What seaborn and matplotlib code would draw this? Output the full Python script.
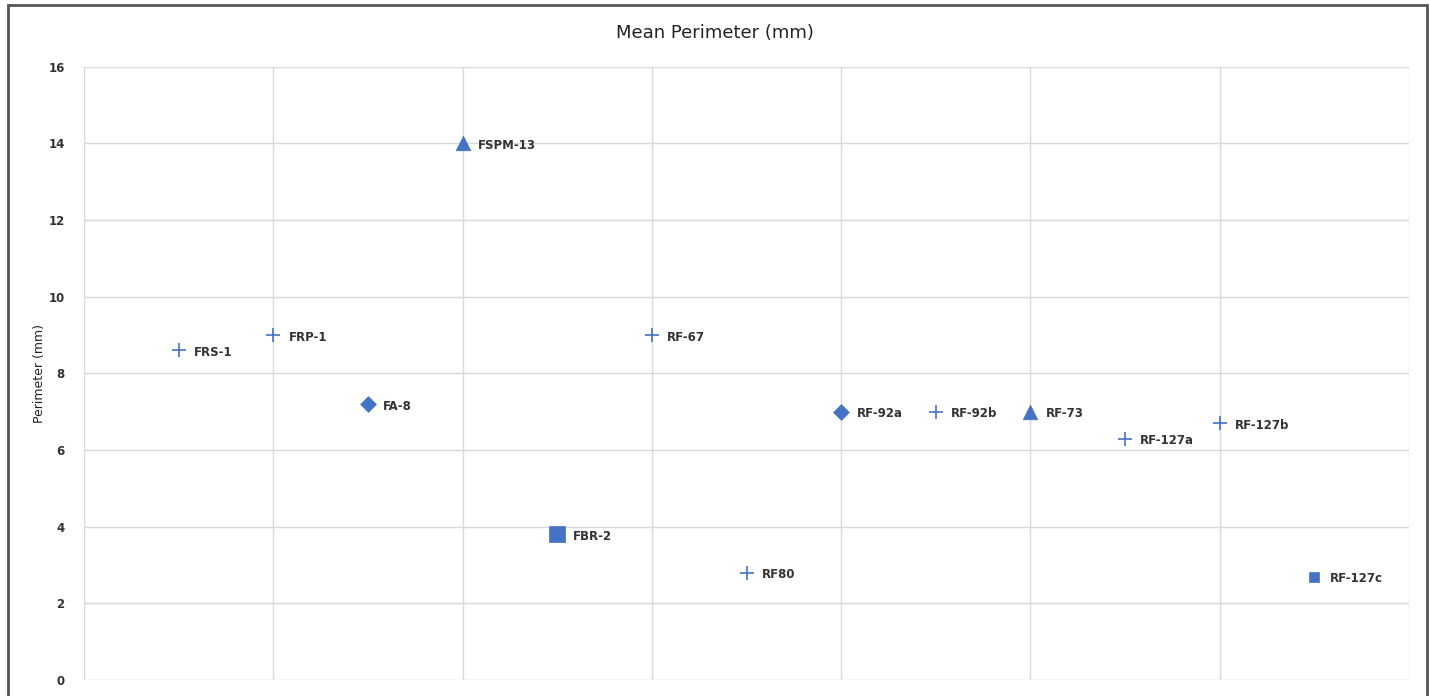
import pandas as pd
import seaborn as sns
import matplotlib.pyplot as plt
from matplotlib.patches import Rectangle

samples = ['FRS-1', 'FRP-1', 'FA-8', 'FSPM-13', 'FBR-2', 'RF-67', 'RF80',
           'RF-92a', 'RF-92b', 'RF-73', 'RF-127a', 'RF-127b', 'RF-127c']
position = [1, 2, 3, 4, 5, 6, 7, 8, 9, 10, 11, 12, 13]
perimeter = [8.6, 9.0, 7.2, 14.0, 3.8, 9.0, 2.8, 7.0, 7.0, 7.0, 6.3, 6.7, 2.7]
shape = ['+', '+', 'D', '^', 's', '+', '+', 'D', '+', '^', '+', '+', 's']
msize = [110, 110, 65, 110, 120, 110, 110, 65, 110, 110, 110, 110, 55]

df = pd.DataFrame({'sample': samples, 'x': position, 'perimeter': perimeter,
                   'shape': shape, 'msize': msize})

blue = '#4472C4'
sns.set_style('white')
fig = plt.figure(figsize=(14.29, 6.96), dpi=100)
ax = fig.add_axes([0.0588, 0.023, 0.9272, 0.881])

for _, row in df.iterrows():
    if row['shape'] == '+':
        sns.scatterplot(x=[row['x']], y=[row['perimeter']], marker='+', s=row['msize'],
                        color=blue, linewidth=1.2, ax=ax, zorder=3)
    else:
        sns.scatterplot(x=[row['x']], y=[row['perimeter']], marker=row['shape'], s=row['msize'],
                        color=blue, edgecolor=blue, linewidth=0.5, ax=ax, zorder=3)
    ax.annotate(row['sample'], (row['x'], row['perimeter']), xytext=(11, -1.5),
                textcoords='offset points', va='center', ha='left',
                fontsize=8.5, color='#333333', fontweight='semibold')

ax.set_xlim(0, 14)
ax.set_ylim(0, 16)
ax.set_xticks(range(0, 15, 2))
ax.set_yticks(range(0, 17, 2))
ax.set_xticklabels([])
ax.set_yticklabels([str(v) for v in range(0, 17, 2)], fontsize=8.5,
                   fontweight='semibold', color='#333333')
ax.tick_params(axis='both', length=0, pad=14)
ax.grid(True, color='#d9d9d9', linewidth=1.0)
for sp in ax.spines.values():
    sp.set_visible(False)
ax.set_axisbelow(True)
ax.set_xlabel('')
ax.set_ylabel('Perimeter (mm)', fontsize=9, color='#222222', labelpad=12)
ax.yaxis.set_label_coords(-0.029, 0.5)

fig.text(0.5, 0.952, 'Mean Perimeter (mm)', ha='center', va='center',
         fontsize=13, color='#222222')
fig.patches.append(Rectangle((0.0056, -0.05), 0.993, 1.0428, transform=fig.transFigure,
                             fill=False, edgecolor='#555555', linewidth=2.0))

plt.savefig('out.png', dpi=100)
